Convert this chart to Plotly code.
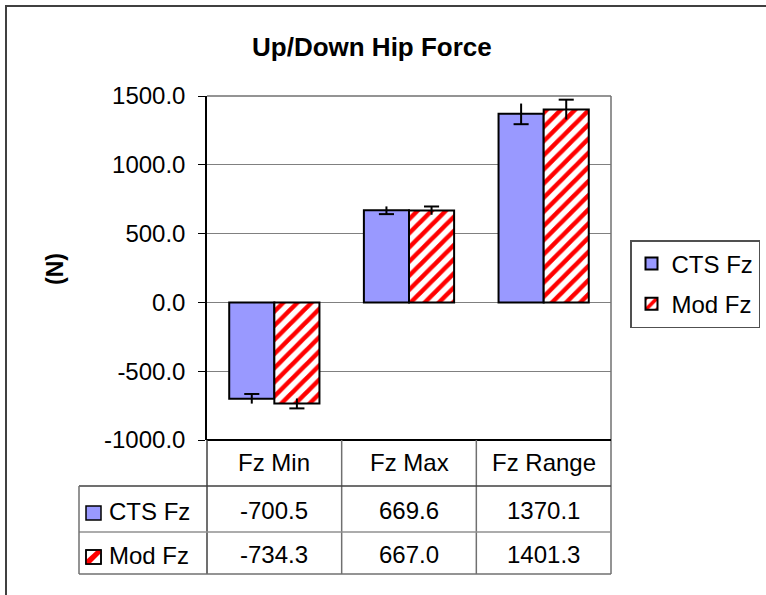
import plotly.graph_objects as go

# ---------------- data ----------------
categories = ["Fz Min", "Fz Max", "Fz Range"]
series_names = ["CTS Fz", "Mod Fz"]
cts_values = [-700.5, 669.6, 1370.1]
mod_values = [-734.3, 667.0, 1401.3]
cts_errors = [35, 28, 75]
mod_errors = [36, 30, 72]
y_ticks = [-1000, -500, 0, 500, 1000, 1500]
y_tick_text = [f"{v:.1f}" for v in y_ticks]

# ---------------- layout geometry (pixels) ----------------
W, H = 766, 595
L, R, T, B = 207, 611, 96, 440
FONT = "Liberation Sans, Arial, sans-serif"


def pxx(px):
    return (px - L) / (R - L)


def pxy(py):
    return (B - py) / (B - T)


BAR_W = 0.335
CAP_HALF = 0.056
xpos = list(range(len(categories)))

fig = go.Figure()

fig.add_trace(go.Bar(
    x=xpos, y=cts_values, name=series_names[0], width=BAR_W, offset=-BAR_W,
    marker=dict(color="#9999FF", line=dict(color="black", width=2)),
    legendgroup="a",
))
fig.add_trace(go.Bar(
    x=xpos, y=mod_values, name=series_names[1], width=BAR_W, offset=0,
    marker=dict(color="white", line=dict(color="black", width=2),
                pattern=dict(shape="/", fgcolor="#FF0000", bgcolor="white",
                             fgopacity=1, size=10, solidity=0.45)),
    legendgroup="b",
))


def err_trace(values, errs, offset, cap_dir):
    xs, ys = [], []
    for i, (v, e) in enumerate(zip(values, errs)):
        xc = xpos[i] + offset + BAR_W / 2
        xs += [xc, xc, None]
        ys += [v - e, v + e, None]
        sgn = 1 if v >= 0 else -1
        yc = v + cap_dir * sgn * e
        xs += [xc - CAP_HALF, xc + CAP_HALF, None]
        ys += [yc, yc, None]
    return go.Scatter(x=xs, y=ys, mode="lines", line=dict(color="black", width=2),
                      showlegend=False, hoverinfo="skip")


fig.add_trace(err_trace(cts_values, cts_errors, -BAR_W, -1))
fig.add_trace(err_trace(mod_values, mod_errors, 0, 1))

shapes = []
line_dark = "#404040"
line_mid = "#707070"
# outer chart border
shapes.append(dict(type="rect", xref="paper", yref="paper",
                   x0=pxx(6), x1=pxx(900), y0=pxy(6), y1=pxy(800),
                   line=dict(color=line_dark, width=2)))
# plot frame top/right
shapes.append(dict(type="line", xref="paper", yref="paper", x0=0, x1=1, y0=1, y1=1,
                   line=dict(color=line_mid, width=1.5)))
shapes.append(dict(type="line", xref="paper", yref="paper", x0=1, x1=1, y0=1, y1=pxy(574),
                   line=dict(color=line_mid, width=1.5)))
# bottom axis line (table top)
shapes.append(dict(type="line", xref="paper", yref="paper", x0=0, x1=1, y0=0, y1=0,
                   line=dict(color="black", width=2)))
# left axis continuation through table
shapes.append(dict(type="line", xref="paper", yref="paper", x0=0, x1=0, y0=0, y1=pxy(574),
                   line=dict(color=line_dark, width=1.5)))
# column separators
for xb in [0.5, 1.5]:
    shapes.append(dict(type="line", xref="x", yref="paper", x0=xb, x1=xb, y0=0, y1=pxy(574),
                       line=dict(color=line_mid, width=1.5)))
# horizontal table lines
for py, col in [(486, line_dark), (532, "#909090"), (574, line_mid)]:
    shapes.append(dict(type="line", xref="paper", yref="paper", x0=pxx(79), x1=1,
                       y0=pxy(py), y1=pxy(py), line=dict(color=col, width=1.5)))
shapes.append(dict(type="line", xref="paper", yref="paper", x0=pxx(79), x1=pxx(79),
                   y0=pxy(486), y1=pxy(574), line=dict(color=line_mid, width=1.5)))
# legend keys inside table
shapes.append(dict(type="rect", xref="paper", yref="paper",
                   x0=pxx(86), x1=pxx(101), y0=pxy(520), y1=pxy(506),
                   fillcolor="#9999FF", line=dict(color="black", width=1.5)))
shapes.append(dict(type="rect", xref="paper", yref="paper",
                   x0=pxx(86), x1=pxx(101), y0=pxy(564), y1=pxy(550),
                   fillcolor="white", line=dict(color="black", width=1.5)))
pts = [(86, 560), (86, 564), (90, 564), (101, 553), (101, 550), (97, 550)]
path = "M " + " L ".join(f"{pxx(a):.5f},{pxy(b):.5f}" for a, b in pts) + " Z"
shapes.append(dict(type="path", xref="paper", yref="paper", path=path,
                   fillcolor="#FF0000", line=dict(width=0)))
shapes.append(dict(type="rect", xref="paper", yref="paper",
                   x0=pxx(86), x1=pxx(101), y0=pxy(564), y1=pxy(550),
                   line=dict(color="black", width=1.5)))

annotations = []
annotations.append(dict(text="<b>Up/Down Hip Force</b>", xref="paper", yref="paper",
                        x=pxx(372), y=pxy(47), showarrow=False,
                        font=dict(family=FONT, size=26, color="black"),
                        xanchor="center", yanchor="middle"))
annotations.append(dict(text="<b>(N)</b>", xref="paper", yref="paper",
                        x=pxx(55), y=pxy(269), showarrow=False, textangle=-90,
                        font=dict(family=FONT, size=23, color="black"),
                        xanchor="center", yanchor="middle"))
for i, c in enumerate(categories):
    annotations.append(dict(text=c, xref="x", yref="paper", x=xpos[i], y=pxy(463),
                            showarrow=False, font=dict(family=FONT, size=24, color="black"),
                            xanchor="center", yanchor="middle"))
for vals, py in [(cts_values, 510), (mod_values, 554)]:
    for i, v in enumerate(vals):
        annotations.append(dict(text=f"{v:.1f}", xref="x", yref="paper", x=xpos[i], y=pxy(py),
                                showarrow=False, font=dict(family=FONT, size=24, color="black"),
                                xanchor="center", yanchor="middle"))
for name, py in zip(series_names, [511, 555]):
    annotations.append(dict(text=name, xref="paper", yref="paper", x=pxx(107), y=pxy(py),
                            showarrow=False, font=dict(family=FONT, size=24, color="black"),
                            xanchor="left", yanchor="middle"))

fig.update_layout(
    width=W, height=H,
    margin=dict(l=L, r=W - R, t=T, b=H - B, pad=0, autoexpand=False),
    paper_bgcolor="white", plot_bgcolor="white",
    barmode="overlay",
    showlegend=True,
    legend=dict(x=pxx(630), y=pxy(240), xanchor="left", yanchor="top",
                bordercolor="#505050", borderwidth=1.5, bgcolor="white",
                font=dict(family=FONT, size=24, color="black"),
                traceorder="grouped", tracegroupgap=6, itemwidth=30),
    xaxis=dict(range=[-0.5, 2.5], showticklabels=False, showgrid=False,
               zeroline=False, showline=False, ticks="", automargin=False),
    yaxis=dict(range=[-1000, 1500], tickvals=y_ticks, ticktext=y_tick_text,
               showgrid=True, gridcolor="#808080", gridwidth=1, zeroline=False,
               showline=True, linecolor="black", linewidth=1.5,
               ticks="outside", ticklen=7, tickcolor="black", tickwidth=1,
               ticklabelstandoff=8, automargin=False,
               tickfont=dict(family=FONT, size=24, color="black")),
    shapes=shapes,
    annotations=annotations,
)

fig.write_html("out.html", config={"displayModeBar": False},
               post_script="document.body.style.margin='0px';document.body.style.overflow='hidden';")
